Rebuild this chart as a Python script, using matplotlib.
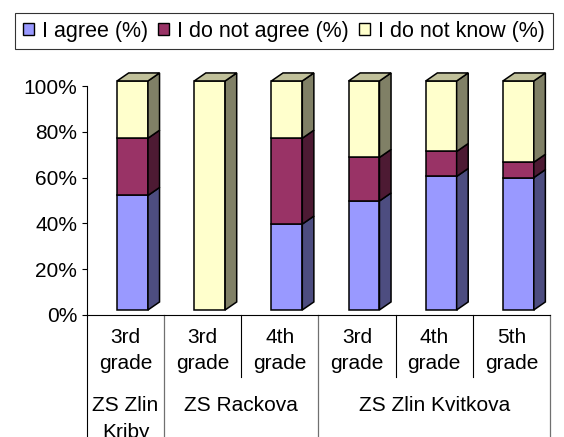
import matplotlib.pyplot as plt
from matplotlib.patches import Polygon, Patch
from matplotlib.transforms import blended_transform_factory

plt.rcParams['font.family'] = ['Liberation Sans', 'DejaVu Sans']

# data
grade_labels = ['3rd grade', '3rd grade', '4th grade', '3rd grade', '4th grade', '5th grade']
schools = ['ZS Zlin\nKriby', 'ZS Rackova', 'ZS Zlin Kvitkova']
school_sizes = [1, 2, 3]
agree = [50.0, 0.0, 37.5, 47.6, 58.3, 57.8]
disagree = [25.0, 0.0, 37.5, 19.0, 10.9, 6.7]
dont_know = [25.0, 100.0, 25.0, 33.4, 30.8, 35.5]

series = [('I agree (%)', agree, '#9999ff', '#4d4d80', '#7373bf'),
          ('I do not agree (%)', disagree, '#993366', '#4d1a33', '#73264d'),
          ('I do not know (%)', dont_know, '#ffffcc', '#808066', '#c0c09a')]

fig = plt.figure(figsize=(5.64, 4.37), dpi=100)
ax = fig.add_axes([87 / 564, (437 - 315) / 437, (550 - 87) / 564, 229 / 437])

# fake 3d geometry (in data units)
shift = 0.09     # front face offset from category centre
width = 0.40
dx = 0.15
dy = 3.5
base = 2.2

n = len(grade_labels)
for i in range(n):
    bottom = 0.0
    parts = [(s[1][i], s[2], s[3], s[4]) for s in series]
    last = max(k for k, p in enumerate(parts) if p[0] > 0)
    for k, (h, front, side, top) in enumerate(parts):
        if h <= 0:
            continue
        x0 = i + shift - width / 2
        x1 = x0 + width
        y0 = base + bottom
        y1 = y0 + h
        ax.bar(x0, h, width=width, bottom=y0, align='edge', color=front,
               edgecolor='black', linewidth=1.1, clip_on=False, zorder=3)
        ax.add_patch(Polygon([(x1, y0), (x1 + dx, y0 + dy), (x1 + dx, y1 + dy), (x1, y1)],
                             closed=True, facecolor=side, edgecolor='black',
                             linewidth=1.1, clip_on=False, zorder=3))
        if k == last:
            ax.add_patch(Polygon([(x0, y1), (x0 + dx, y1 + dy), (x1 + dx, y1 + dy), (x1, y1)],
                                 closed=True, facecolor=top, edgecolor='black',
                                 linewidth=1.1, clip_on=False, zorder=3))
        bottom += h

ax.set_xlim(-0.5, n - 0.5)
ax.set_ylim(0, 100)
ax.set_yticks(range(0, 101, 20))
ax.set_yticklabels([f'{v}%' for v in range(0, 101, 20)])
ax.tick_params(axis='y', direction='out', length=3.6, width=0.8, pad=3.4, labelsize=15)
ax.set_xticks([])
for s in ['top', 'right']:
    ax.spines[s].set_visible(False)
for s in ['left', 'bottom']:
    ax.spines[s].set_linewidth(0.8)

# category table under the axis
tr = blended_transform_factory(ax.transData, ax.transAxes)
px = 1 / 229
bottom_y = -130 * px
ax.plot([-0.5, -0.5], [0, bottom_y], color='black', lw=0.8, transform=tr, clip_on=False)
edge = -0.5
for size in school_sizes:
    edge += size
    ax.plot([edge, edge], [0, bottom_y], color='#707070', lw=0.9, transform=tr, clip_on=False)
start = -0.5
for size in school_sizes:
    for j in range(1, size):
        xs = start + j
        ax.plot([xs, xs], [0, -62 * px], color='black', lw=0.8, transform=tr, clip_on=False)
    start += size

for i, lab in enumerate(grade_labels):
    first, second = lab.split(' ')
    ax.text(i, -28.3 * px, first, ha='center', va='baseline', fontsize=15, transform=tr)
    ax.text(i, -54 * px, second, ha='center', va='baseline', fontsize=15, transform=tr)

start = -0.5
for name, size in zip(schools, school_sizes):
    centre = start + size / 2
    for j, line in enumerate(name.split('\n')):
        ax.text(centre, (-96 - 26.5 * j) * px, line, ha='center', va='baseline',
                fontsize=15, transform=tr)
    start += size

handles = [Patch(facecolor=s[2], edgecolor='black', linewidth=1.0) for s in series]
leg = fig.legend(handles, [s[0] for s in series], loc='center', ncol=3,
                 bbox_to_anchor=(284 / 564, 1 - 31 / 437), fontsize=15.5,
                 frameon=True, fancybox=False, handlelength=0.52, handleheight=0.52,
                 handletextpad=0.38, columnspacing=0.45, borderpad=0.35,
                 borderaxespad=0)
leg.get_frame().set_edgecolor('black')
leg.get_frame().set_linewidth(0.8)

fig.savefig('out.png', dpi=100)
